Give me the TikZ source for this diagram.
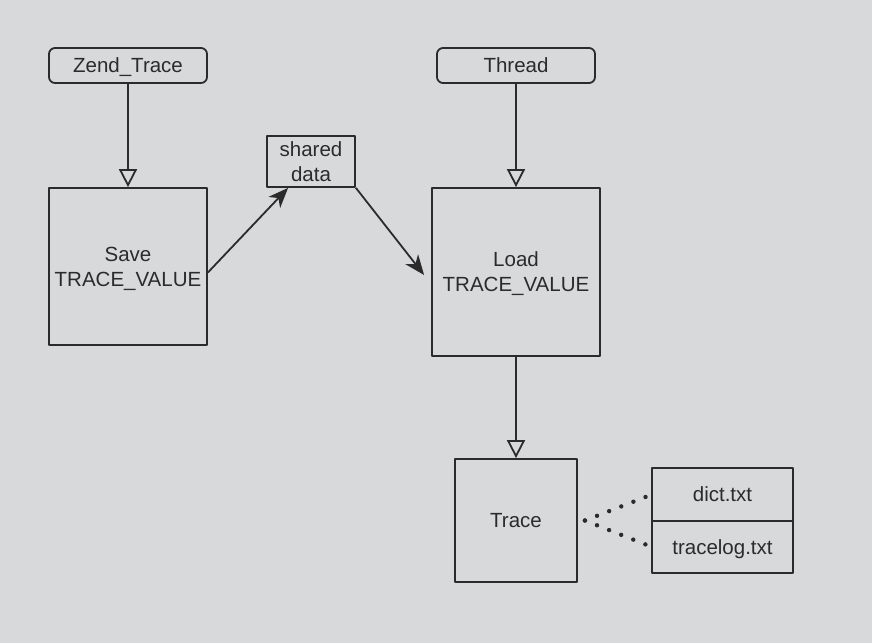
\documentclass[tikz,border=0pt]{standalone}
\usepackage{fontspec}
\setmainfont{Liberation Sans}
\usetikzlibrary{arrows.meta}
\definecolor{bgcol}{HTML}{D8D9DB}
\definecolor{ink}{HTML}{2B2B2B}
\begin{document}
\begin{tikzpicture}[x=1pt,y=-1pt,line join=round,
		box/.style={draw=ink,line width=1.8pt,text=ink,align=center,inner sep=0pt,text depth=0pt,font=\fontsize{20.5}{25}\selectfont},
		rbox/.style={box,rounded corners=6pt,minimum width=158pt,minimum height=35pt},
		hollow/.style={draw=ink,line width=1.8pt,-{Triangle[open,length=18pt,width=18pt]}},
		pointed/.style={draw=ink,line width=1.8pt,-{Stealth[length=20pt,width=16pt,inset=6pt]}},
		dots/.style={draw=ink,line width=4.4pt,line cap=round,dash pattern=on 0pt off 13pt}]
	\fill[bgcol] (0,0) rectangle (872,643);
	\useasboundingbox (0,0) rectangle (872,643);
	% top row
	\node[rbox] (zend) at (128,65.5) {Zend\_Trace};
	\node[rbox] (thread) at (516,65.5) {Thread};
	% middle row
	\node[box,minimum width=158pt,minimum height=157pt] (save) at (128,266.5) {Save\\TRACE\_VALUE};
	\node[box,minimum width=88pt,minimum height=51pt] (shared) at (311,161.5) {shared\\data};
	\node[box,minimum width=168pt,minimum height=168pt] (load) at (516,272) {Load\\TRACE\_VALUE};
	% bottom row
	\node[box,minimum width=122pt,minimum height=123pt] (trace) at (516,520.5) {Trace};
	\node[box,outer sep=0pt,minimum width=141pt,minimum height=53pt] (dict) at (722.5,494.5) {dict.txt};
	\node[box,outer sep=0pt,minimum width=141pt,minimum height=52pt,anchor=north] (log) at (dict.south) {tracelog.txt};
	\coordinate (tr) at ([xshift=7pt]trace.east);
	% connectors
	\draw[hollow] (zend) -- (save);
	\draw[hollow] (thread) -- (load);
	\draw[hollow] (load) -- (trace);
	\draw[pointed] ([yshift=-6pt]save.east) -- ([xshift=22pt]shared.south west);
	\draw[pointed] (shared.south east) -- ([xshift=-7pt,yshift=-3pt]load.west);
	\draw[dots] (tr) -- (dict.west);
	\draw[dots] (tr) -- (log.west);
\end{tikzpicture}
\end{document}
